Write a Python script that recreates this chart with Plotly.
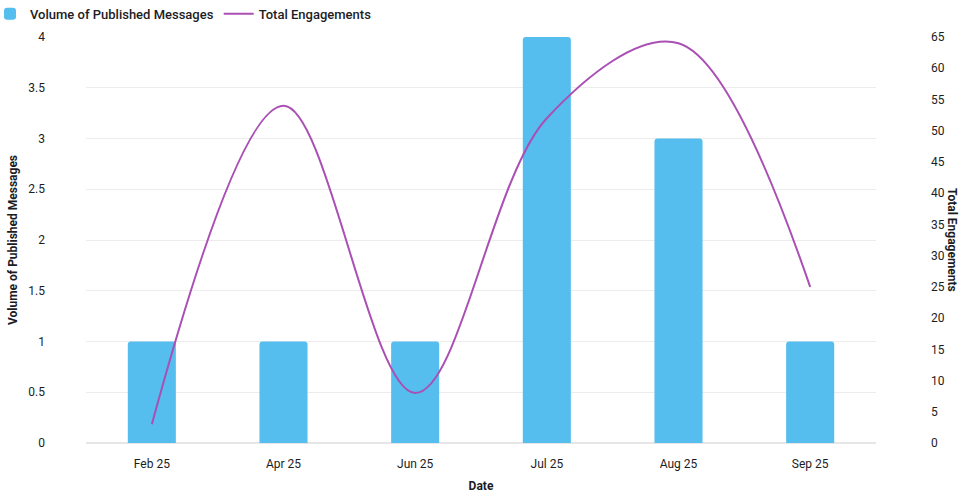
import plotly.graph_objects as go

dates = ["Feb 25", "Apr 25", "Jun 25", "Jul 25", "Aug 25", "Sep 25"]
published_messages = [1, 1, 1, 4, 3, 1]
total_engagements = [3, 54, 8, 52, 64, 25]

left_ticks = [0, 0.5, 1, 1.5, 2, 2.5, 3, 3.5, 4]
left_tick_text = ["0", "0.5", "1", "1.5", "2", "2.5", "3", "3.5", "4"]
right_ticks = list(range(0, 70, 5))

BAR_COLOR = "#55BEEE"
LINE_COLOR = "#AA4FB4"
TEXT = "#1c1c24"

fig = go.Figure()
fig.add_trace(go.Bar(
    x=dates, y=published_messages, name="Volume of Published Messages",
    marker=dict(color=BAR_COLOR, line=dict(width=0)),
    width=0.365, yaxis="y",
))
fig.add_trace(go.Scatter(
    x=dates, y=total_engagements, name="Total Engagements",
    mode="lines", line=dict(color=LINE_COLOR, width=2, shape="spline", smoothing=1.0),
    yaxis="y2",
))

fig.update_layout(
    width=961, height=494,
    margin=dict(l=86, r=85, t=37, b=51, autoexpand=False),
    paper_bgcolor="white", plot_bgcolor="white",
    font=dict(family="Roboto", size=12, color=TEXT),
    barcornerradius=3,
    showlegend=True,
    legend=dict(
        orientation="h", x=-0.1215, y=1.057, xanchor="left", yanchor="middle",
        font=dict(family="Roboto", size=13, color=TEXT, weight=500),
        itemwidth=30, traceorder="normal",
    ),
    xaxis=dict(
        showgrid=False, showline=False, ticks="", ticklabelstandoff=12,
        tickfont=dict(size=12, color=TEXT),
        title=dict(text="Date", font=dict(size=12, color=TEXT, weight="bold"), standoff=11),
    ),
    yaxis=dict(
        range=[0, 4], tickvals=left_ticks, ticktext=left_tick_text,
        showgrid=True, gridcolor="#ececec", gridwidth=1, zeroline=True, zerolinecolor="#e6e6e6",
        showline=False, ticks="", ticklabelstandoff=40,
        tickfont=dict(size=12, color=TEXT),
        title=dict(text="Volume of Published Messages", font=dict(size=12, color=TEXT, weight="bold"), standoff=8),
    ),
    yaxis2=dict(
        range=[0, 65], tickvals=right_ticks, overlaying="y", side="right",
        showgrid=False, zeroline=False, showline=False, ticks="", ticklabelstandoff=54,
        tickfont=dict(size=12, color=TEXT),
    ),
    annotations=[dict(
        text="Total Engagements", textangle=90, xref="paper", yref="paper",
        x=(952 - 86) / 790, y=0.5, xanchor="center", yanchor="middle", showarrow=False,
        font=dict(size=12, color=TEXT, weight="bold"),
    )],
)

fig.write_html("out.html")
